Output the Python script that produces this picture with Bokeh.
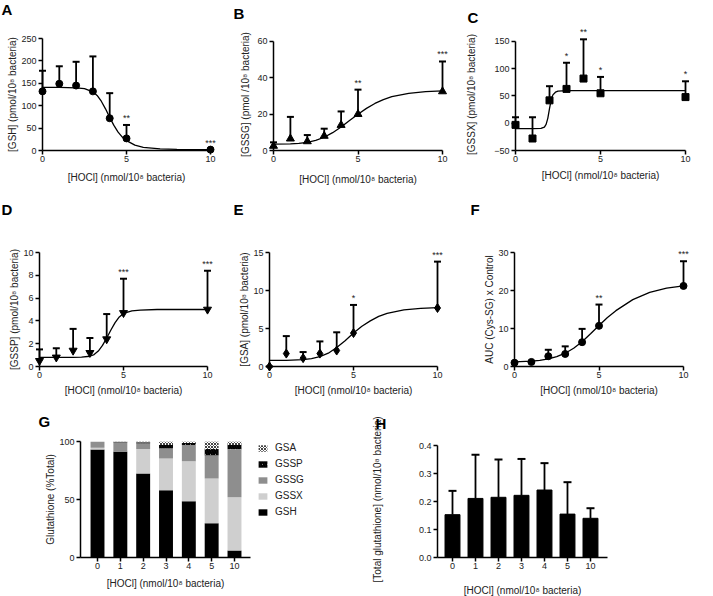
from bokeh.plotting import figure
from bokeh.layouts import row, column
from bokeh.models import FixedTicker, Legend, LegendItem, NumeralTickFormatter, ColumnDataSource
from bokeh.core.properties import value
from bokeh.embed import file_html
from bokeh.resources import INLINE

FONT = "Liberation Sans"
XTITLE = "[HOCl] (nmol/10\u2078 bacteria)"

# ---------------- data ----------------
hocl = [0, 1, 2, 3, 4, 5, 10]
hocl_labels = ["0", "1", "2", "3", "4", "5", "10"]

# A: GSH
gsh_mean = [132, 149, 145, 132, 72, 27, 2]
gsh_upper = [178, 188, 198, 210, 128, 57, 2]
gsh_stars = ["", "", "", "", "", "**", "***"]
gsh_fit_x = [0, 1, 2, 2.5, 3, 3.25, 3.5, 3.75, 4, 4.25, 4.5, 4.75, 5, 5.5, 6, 7, 8, 10]
gsh_fit_y = [141, 141, 140, 138, 131, 123, 110, 93, 74, 56, 41, 30, 22, 12, 7, 3.5, 2.5, 2]

# B: GSSG
gssg_mean = [2.5, 6.5, 5, 8, 14, 20, 32.5]
gssg_upper = [4.5, 18.5, 8.5, 12, 21.5, 33.5, 49]
gssg_stars = ["", "", "", "", "", "**", "***"]
gssg_fit_x = [0, 1, 1.5, 2, 2.5, 3, 3.5, 4, 4.5, 5, 5.5, 6, 6.5, 7, 8, 9, 10]
gssg_fit_y = [3.5, 3.6, 3.9, 4.5, 5.6, 7.3, 9.8, 12.9, 16.5, 20.0, 23.2, 25.9, 28.0, 29.6, 31.5, 32.4, 32.8]

# C: GSSX
gssx_mean = [-3, -28, 42, 63, 82, 55, 48]
gssx_upper = [11, 11, 68, 111, 154, 85, 77]
gssx_stars = ["", "", "", "*", "**", "*", "*"]
gssx_fit_x = [0, 1, 1.5, 1.7, 1.8, 1.9, 2.0, 2.1, 2.2, 2.35, 2.5, 3, 5, 10]
gssx_fit_y = [-10, -10, -9.5, -7, -2, 9, 27, 43, 52, 57, 59, 60, 60, 60]

# D: GSSP
gssp_mean = [0.5, 0.8, 1.4, 1.2, 2.4, 4.7, 5.0]
gssp_upper = [1.5, 1.6, 3.3, 2.5, 4.6, 7.7, 8.4]
gssp_stars = ["", "", "", "", "", "***", "***"]
gssp_fit_x = [0, 1, 2, 2.5, 3, 3.25, 3.5, 3.75, 4, 4.25, 4.5, 4.75, 5, 5.5, 6, 7, 10]
gssp_fit_y = [0.8, 0.8, 0.8, 0.82, 0.9, 1.05, 1.35, 1.85, 2.5, 3.2, 3.85, 4.35, 4.65, 4.88, 4.95, 5.0, 5.0]

# E: GSA
gsa_mean = [0, 1.7, 1.1, 1.7, 2.1, 4.4, 7.7]
gsa_upper = [0, 4.0, 1.9, 3.3, 4.5, 8.1, 13.8]
gsa_stars = ["", "", "", "", "", "*", "***"]
gsa_fit_x = [0, 1, 2, 2.5, 3, 3.5, 4, 4.5, 5, 5.5, 6, 6.5, 7, 8, 9, 10]
gsa_fit_y = [0.8, 0.8, 0.9, 1.05, 1.3, 1.75, 2.5, 3.4, 4.4, 5.3, 6.0, 6.6, 7.0, 7.45, 7.65, 7.75]

# F: AUC (Cys-SG)
auc_mean = [1.0, 1.2, 2.7, 3.3, 6.4, 10.7, 21.2]
auc_upper = [1.0, 1.2, 4.4, 5.3, 9.9, 16.3, 27.7]
auc_stars = ["", "", "", "", "", "**", "***"]
auc_fit_x = [0, 1, 1.5, 2, 2.5, 3, 3.5, 4, 4.5, 5, 5.5, 6, 7, 8, 9, 10]
auc_fit_y = [1.2, 1.4, 1.6, 2.0, 2.6, 3.5, 4.8, 6.5, 8.6, 10.8, 12.9, 14.7, 17.6, 19.5, 20.6, 21.2]

# G: composition (% of total)
pct_gsh = [93.0, 91.3, 72.5, 58.0, 48.5, 29.5, 6.0]
pct_gssx = [1.7, 0.4, 21.0, 27.3, 34.4, 38.5, 46.0]
pct_gssg = [5.3, 7.4, 4.7, 8.7, 14.1, 20.0, 41.4]
pct_gssp = [0.0, 0.6, 1.2, 3.0, 1.8, 5.5, 3.6]
pct_gsa = [0.0, 0.3, 0.6, 3.0, 1.2, 6.5, 3.0]

# H: total glutathione
total_mean = [0.153, 0.211, 0.215, 0.222, 0.241, 0.155, 0.140]
total_upper = [0.238, 0.367, 0.350, 0.352, 0.337, 0.269, 0.176]


# ---------------- helpers ----------------
def base_fig(fw, fh, l, r, t, b, xr, yr):
    p = figure(frame_width=fw, frame_height=fh, min_border_left=l, min_border_right=r,
               min_border_top=t, min_border_bottom=b, x_range=xr, y_range=yr,
               output_backend="svg", toolbar_location=None, tools="")
    try:
        p.title = None
    except Exception:
        pass
    p.grid.visible = False
    p.outline_line_color = None
    p.background_fill_color = "white"
    p.border_fill_color = "white"
    return p


def style_axes(p, xticks, yticks, ytitle, ystand, ybounds=None):
    for ax in (p.xaxis[0], p.yaxis[0]):
        ax.axis_line_width = 1.5
        ax.axis_line_color = "black"
        ax.major_tick_line_width = 1.5
        ax.major_tick_line_color = "black"
        ax.major_tick_out = 4
        ax.major_tick_in = 0
        ax.minor_tick_line_color = None
        ax.major_label_text_font = FONT
        ax.major_label_text_font_size = "9px"
        ax.major_label_text_color = "#222222"
        ax.major_label_standoff = 2
        ax.axis_label_text_font = FONT
        ax.axis_label_text_font_size = "10px"
        ax.axis_label_text_font_style = "normal"
        ax.axis_label_text_color = "#222222"
    p.xaxis[0].major_label_standoff = 1
    p.xaxis[0].ticker = FixedTicker(ticks=xticks)
    p.yaxis[0].ticker = FixedTicker(ticks=yticks)
    p.yaxis[0].axis_label = ytitle
    p.yaxis[0].axis_label_standoff = ystand
    if ybounds is not None:
        p.yaxis[0].bounds = ybounds


def letter(p, txt, dx, dy):
    # panel letter, anchored at the top-left corner of the plot area, offset in pixels
    p.text(x=[p.x_range.start], y=[p.y_range.end], text=[txt], x_offset=dx, y_offset=dy,
           text_font=value(FONT), text_font_size="15px", text_font_style="bold",
           text_color="black", text_align="left", text_baseline="middle",
           level="overlay")


def xtitle(p, xc, y0, dy):
    # x-axis title, centred under the axis, dy pixels below it
    p.text(x=[xc], y=[y0], text=[XTITLE], y_offset=dy,
           text_font=value(FONT), text_font_size="10px", text_color="#222222",
           text_align="center", text_baseline="middle", level="overlay")


def xy_panel(dims, yr, ybounds, yticks, ytitle, ystand, tdy, mean, upper, stars, fx, fy,
             marker, msize):
    fw, fh, l, r, t, b = dims
    p = base_fig(fw, fh, l, r, t, b, (0, 10), yr)
    style_axes(p, [0, 5, 10], yticks, ytitle, ystand, ybounds)
    xtitle(p, 5, yr[0], tdy)
    p.line(fx, fy, line_color="black", line_width=1.3)
    p.segment(x0=hocl, y0=mean, x1=hocl, y1=upper, line_color="black",
              line_width=1.8, level="overlay")
    p.scatter(hocl, upper, marker="dash", size=7, line_width=2,
              line_color="black", level="overlay")
    p.scatter(hocl, mean, marker=marker, size=msize, fill_color="black",
              line_color="black", level="overlay")
    src = ColumnDataSource(dict(x=hocl, y=upper, s=stars))
    p.text(x="x", y="y", text="s", source=src, text_align="center",
           text_baseline="bottom", y_offset=-2, text_font_size="9px",
           text_color="#222222", level="overlay")
    return p


# ---------------- row 1 (same borders so the row's frames line up) ----------------
pA = xy_panel((168, 112, 42, 20, 38, 50), (0, 250), None, [0, 50, 100, 150, 200, 250],
              "[GSH] (pmol/10\u2078 bacteria)", 0, 27, gsh_mean, gsh_upper, gsh_stars,
              gsh_fit_x, gsh_fit_y, "circle", 7)
letter(pA, "A", -41, -29)

pB = xy_panel((169, 112, 43, 17, 38, 50), (0, 61.65), (0, 60), [0, 20, 40, 60],
              "[GSSG] (pmol /10\u2078 bacteria)", 3, 29, gssg_mean, gssg_upper, gssg_stars,
              gssg_fit_x, gssg_fit_y, "triangle", 8)
letter(pB, "B", -40, -25)

pC = xy_panel((170, 112, 56, 28, 38, 50), (-50, 155.5), (-50, 150), [-50, 0, 50, 100, 150],
              "[GSSX] (pmol/10\u2078 bacteria)", 14, 25, gssx_mean, gssx_upper, gssx_stars,
              gssx_fit_x, gssx_fit_y, "square", 7)
letter(pC, "C", -48, -21)

# ---------------- row 2 ----------------
pD = xy_panel((168, 114, 39, 23, 52, 34), (0, 10), None, [0, 2, 4, 6, 8, 10],
              "[GSSP] (pmol/10\u2078 bacteria)", 0, 24, gssp_mean, gssp_upper, gssp_stars,
              gssp_fit_x, gssp_fit_y, "inverted_triangle", 8)
letter(pD, "D", -38, -43)

pE = xy_panel((168, 114, 39, 22, 52, 34), (0, 15), None, [0, 5, 10, 15],
              "[GSA] (pmol/10\u2078 bacteria)", 0, 24, gsa_mean, gsa_upper, gsa_stars,
              gsa_fit_x, gsa_fit_y, "diamond", 9)
letter(pE, "E", -36, -43)

pF = xy_panel((169, 114, 55, 30, 52, 34), (0, 30), None, [0, 10, 20, 30],
              "AUC (Cys-SG) x Control", 0, 24, auc_mean, auc_upper, auc_stars,
              auc_fit_x, auc_fit_y, "circle", 7)
letter(pF, "F", -44, -43)

# ---------------- row 3: G ----------------
idx = list(range(len(hocl)))
g_bar_lo, g_bar_hi = -0.745, 6.70
pG = base_fig(225, 116, 80, 50, 41, 39, (g_bar_lo, 9.11), (0, 100))
style_axes(pG, idx, [0, 50, 100], "Glutathione (%Total)", 0)
pG.xaxis[0].bounds = (g_bar_lo, g_bar_hi)
pG.xaxis[0].major_label_overrides = {i: s for i, s in zip(idx, hocl_labels)}
xtitle(pG, (g_bar_lo + g_bar_hi) / 2, 0, 26)
gsrc = ColumnDataSource(dict(x=idx, GSH=pct_gsh, GSSX=pct_gssx, GSSG=pct_gssg,
                             GSSP=pct_gssp, GSA=pct_gsa))
stack_names = ["GSH", "GSSX", "GSSG", "GSSP", "GSA"]
rs = pG.vbar_stack(stack_names, x="x", width=0.61, source=gsrc,
                   fill_color=["black", "#cfcfcf", "#8e8e8e", "white", "white"],
                   line_color=None,
                   hatch_pattern=[None, None, None, "left_diagonal_line", "diagonal_cross"],
                   hatch_color=["black", "black", "black", "black", "#444444"],
                   hatch_scale=[6, 6, 6, 5, 3],
                   hatch_weight=[1, 1, 1, 2.2, 1])
legend = Legend(items=[LegendItem(label=n, renderers=[rr]) for n, rr in
                       reversed(list(zip(stack_names, rs)))],
                location=(177, 40), orientation="vertical", margin=0, padding=0,
                spacing=5, glyph_width=11, glyph_height=8, label_height=10,
                label_standoff=7, border_line_color=None,
                background_fill_alpha=0, label_text_font=FONT,
                label_text_font_size="10px", label_text_color="#222222")
pG.add_layout(legend, "center")
letter(pG, "G", -42, -20)

# ---------------- row 3: H ----------------
h_lo, h_hi = -0.652, 6.74
pH = base_fig(170, 116, 82, 106, 41, 39, (h_lo, h_hi), (0, 0.4143))
style_axes(pH, idx, [0, 0.1, 0.2, 0.3, 0.4],
           "[Total glutathione] (nmol/10\u2078 bacteria)", 33, (0, 0.4))
pH.xaxis[0].major_label_overrides = {i: s for i, s in zip(idx, hocl_labels)}
pH.yaxis[0].formatter = NumeralTickFormatter(format="0.0")
xtitle(pH, (h_lo + h_hi) / 2, 0, 33)
pH.vbar(x=idx, top=total_mean, width=0.65, fill_color="black", line_color="black")
pH.segment(x0=idx, y0=total_mean, x1=idx, y1=total_upper, line_color="black",
           line_width=1.8, level="overlay")
pH.scatter(idx, total_upper, marker="dash", size=8, line_width=2,
           line_color="black", level="overlay")
letter(pH, "H", -62, -18)

layout = column(row(pA, pB, pC), row(pD, pE, pF), row(pG, pH))

open("out.html", "w").write(file_html(layout, INLINE))
